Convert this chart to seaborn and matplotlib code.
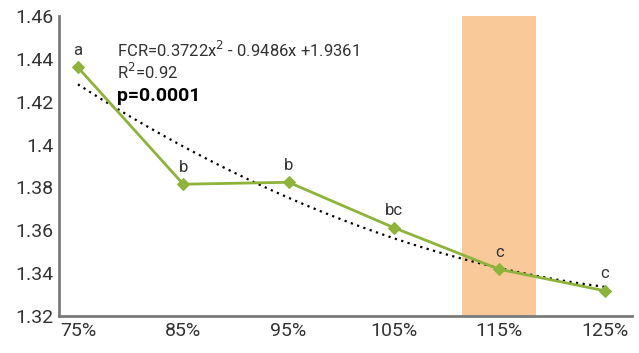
import numpy as np
import pandas as pd
import seaborn as sns
import matplotlib.pyplot as plt

# feeding level (% of requirement) vs feed conversion ratio
levels = [75, 85, 95, 105, 115, 125]
level_labels = ['75%', '85%', '95%', '105%', '115%', '125%']
fcr = [1.436, 1.3815, 1.3824, 1.3612, 1.3418, 1.3318]
letters = ['a', 'b', 'b', 'bc', 'c', 'c']
y_ticks = [1.32, 1.34, 1.36, 1.38, 1.40, 1.42, 1.44, 1.46]
y_tick_labels = ['1.32', '1.34', '1.36', '1.38', '1.4', '1.42', '1.44', '1.46']
band = [111.5, 118.5]

df = pd.DataFrame({'level': levels, 'fcr': fcr})

sns.set_style('white')
plt.rcParams['font.family'] = ['Roboto', 'DejaVu Sans']

fig = plt.figure(figsize=(6.39, 3.53), dpi=100)
ax = fig.add_axes([0.0923, 0.1048, 0.8967, 0.8499])

green = '#8db33a'
txt = '#333333'

ax.axvspan(band[0], band[1], color='#fac99a', lw=0, zorder=0)

sns.regplot(data=df, x='level', y='fcr', order=2, ci=None, scatter=False, ax=ax,
            line_kws=dict(color='black', ls=(0, (1, 2)), lw=1.6, zorder=2))
sns.lineplot(data=df, x='level', y='fcr', ax=ax, color=green, lw=2,
             marker='D', markersize=6, markeredgecolor=green, zorder=3)

for x, y, s in zip(levels, fcr, letters):
    ax.annotate(s, (x, y), xytext=(0, 9), textcoords='offset points',
                ha='center', va='baseline', fontsize=12, color=txt)

ax.text(78.7, 1.4410, 'FCR=0.3722x$^2$ - 0.9486x +1.9361', fontsize=12, color=txt, va='baseline')
ax.text(78.7, 1.4305, 'R$^2$=0.92', fontsize=12, color=txt, va='baseline')
ax.text(78.7, 1.4203, 'p=0.0001', fontsize=14, color='black', fontweight='bold', va='baseline')

ax.set_xlim(73.2, 127.6)
ax.set_ylim(1.32, 1.46)
ax.set_xticks(levels)
ax.set_xticklabels(level_labels)
ax.set_yticks(y_ticks)
ax.set_yticklabels(y_tick_labels)
ax.tick_params(axis='both', length=0, labelsize=14, colors=txt, pad=4)
ax.set_xlabel('')
ax.set_ylabel('')

sns.despine(ax=ax)
for side in ['left', 'bottom']:
    ax.spines[side].set_color('#7a7a7a')
    ax.spines[side].set_linewidth(2)

fig.savefig('out.png', dpi=100)
